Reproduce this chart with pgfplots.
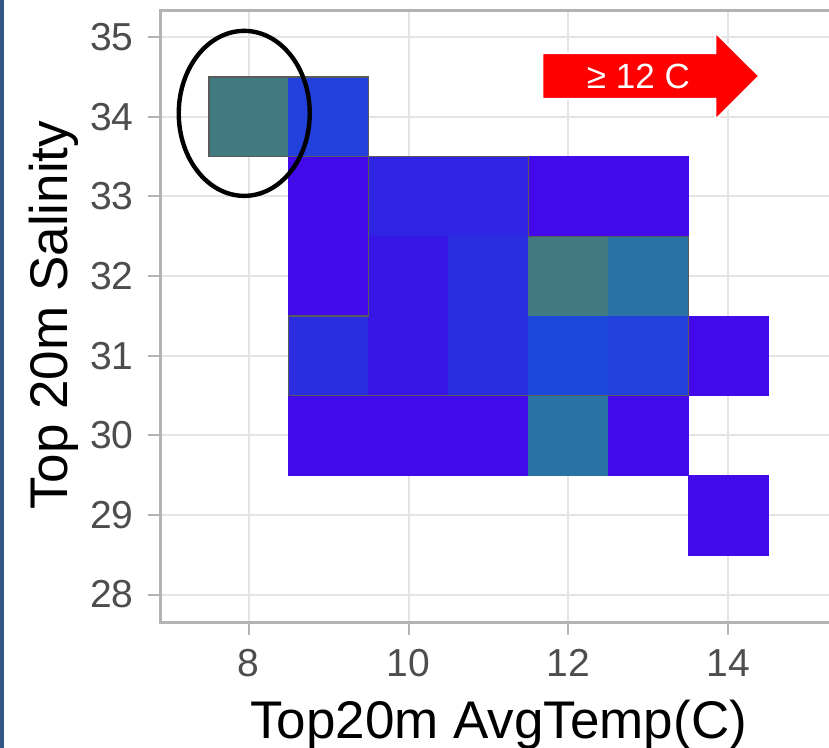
\documentclass[border=0pt]{standalone}
\usepackage{pgfplots}
\pgfplotsset{compat=1.18}
\usepackage{fontspec}
\setmainfont{Liberation Sans}
\definecolor{teal1}{RGB}{65,122,128}
\definecolor{tealb}{RGB}{40,114,166}
\definecolor{purp}{RGB}{66,10,235}
\definecolor{bA}{RGB}{33,64,220}
\definecolor{bB}{RGB}{46,36,226}
\definecolor{bC}{RGB}{56,22,230}
\definecolor{bD}{RGB}{42,45,224}
\definecolor{bE}{RGB}{28,72,220}
\definecolor{gridc}{RGB}{228,228,228}
\definecolor{framec}{RGB}{179,179,179}
\definecolor{tickc}{RGB}{77,77,77}
\definecolor{outl}{RGB}{90,90,90}
\definecolor{stripc}{RGB}{50,86,136}
\newcommand{\tile}[5]{\addplot[fill=#5, draw=#5, line width=0.2pt] coordinates {(#1,#3) (#2,#3) (#2,#4) (#1,#4)} --cycle;}
\begin{document}
\begin{tikzpicture}
\fill[stripc] (0,0) rectangle (1.75pt,374pt);
\begin{axis}[
  at={(80pt,62.5pt)}, anchor=south west,
  width=334.5pt, height=306pt, scale only axis,
  xmin=6.89, xmax=15.26, ymin=27.643, ymax=35.33,
  xtick={8,10,12,14}, ytick={28,29,30,31,32,33,34,35},
  axis line style={draw=none},
  grid=major, major grid style={draw=gridc, line width=1pt},
  tick align=outside, major tick length=6pt,
  major tick style={draw=framec, line width=1pt},
  xtick pos=bottom, ytick pos=left,
  /pgf/number format/assume math mode=true,
  ticklabel style={font=\fontsize{19.5}{20}\selectfont, text=tickc},
  yticklabel style={anchor=east, inner sep=0pt, xshift=-7pt},
  xticklabel style={anchor=north, inner sep=0pt, yshift=-7pt},
  xlabel={Top20m AvgTemp(C)}, ylabel={Top 20m Salinity},
  label style={font=\fontsize{26.5}{28}\selectfont, text=black},
  xlabel style={at={(axis description cs:0.506,-0.1895)}, anchor=base},
  ylabel style={at={(axis description cs:-0.138,0.503)}, anchor=base, rotate=0},
  clip=false,
]
\tile{7.5}{8.5}{33.5}{34.5}{teal1}
\tile{8.5}{9.5}{33.5}{34.5}{bA}
\tile{8.5}{9.5}{32.5}{33.5}{purp}
\tile{9.5}{10.5}{32.5}{33.5}{bB}
\tile{10.5}{11.5}{32.5}{33.5}{bB}
\tile{11.5}{12.5}{32.5}{33.5}{purp}
\tile{12.5}{13.5}{32.5}{33.5}{purp}
\tile{8.5}{9.5}{31.5}{32.5}{purp}
\tile{9.5}{10.5}{31.5}{32.5}{bC}
\tile{10.5}{11.5}{31.5}{32.5}{bD}
\tile{11.5}{12.5}{31.5}{32.5}{teal1}
\tile{12.5}{13.5}{31.5}{32.5}{tealb}
\tile{8.5}{9.5}{30.5}{31.5}{bD}
\tile{9.5}{10.5}{30.5}{31.5}{bC}
\tile{10.5}{11.5}{30.5}{31.5}{bD}
\tile{11.5}{12.5}{30.5}{31.5}{bE}
\tile{12.5}{13.5}{30.5}{31.5}{bA}
\tile{13.5}{14.5}{30.5}{31.5}{purp}
\tile{8.5}{9.5}{29.5}{30.5}{purp}
\tile{9.5}{10.5}{29.5}{30.5}{purp}
\tile{10.5}{11.5}{29.5}{30.5}{purp}
\tile{11.5}{12.5}{29.5}{30.5}{tealb}
\tile{12.5}{13.5}{29.5}{30.5}{purp}
\tile{13.5}{14.5}{28.5}{29.5}{purp}
\addplot[draw=outl, line width=0.75pt, no marks] coordinates {(7.5,33.5) (9.5,33.5) (9.5,34.5) (7.5,34.5)} --cycle;
\addplot[draw=outl, line width=0.75pt, no marks] coordinates {(9.5,33.5) (11.5,33.5) (11.5,32.5) (13.5,32.5) (13.5,30.5) (8.5,30.5) (8.5,31.5) (9.5,31.5)} --cycle;
\draw[framec, line width=1.5pt] (rel axis cs:1,0) -- (rel axis cs:0,0) -- (rel axis cs:0,1) -- (rel axis cs:1,1);
\draw[black, line width=2.2pt] (axis cs:7.944,34.044) ellipse [x radius=32.75pt, y radius=41.25pt];
\fill[red, draw=white, line width=1pt] (axis cs:11.675,34.225) -- (axis cs:13.8375,34.225) -- (axis cs:13.8375,33.9625) -- (axis cs:14.3875,34.5125) -- (axis cs:13.8375,35.0625) -- (axis cs:13.8375,34.8) -- (axis cs:11.675,34.8) -- cycle;
\node[text=white, font=\fontsize{17.5}{18}\selectfont, inner sep=0pt] at (axis cs:12.875,34.51) {≥ 12 C};
\end{axis}
\pgfresetboundingbox
\useasboundingbox (0,0) rectangle (414.5pt,374pt);
\end{tikzpicture}
\end{document}
